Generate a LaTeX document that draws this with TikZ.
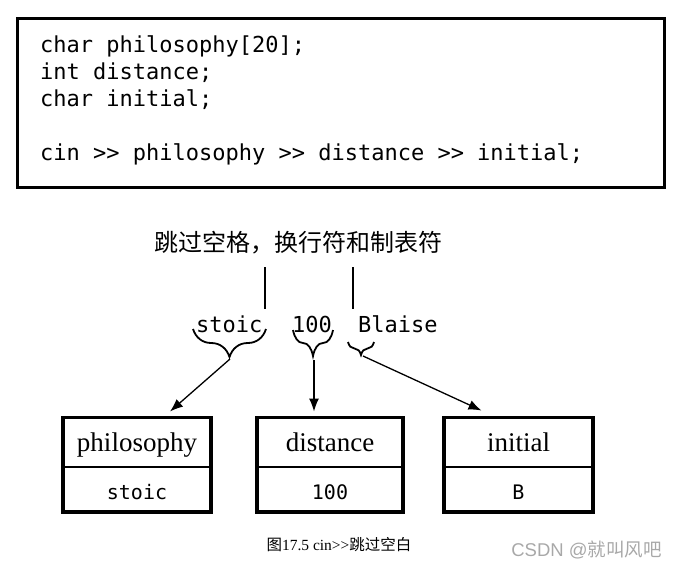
\documentclass[tikz,border=0pt]{standalone}
\usepackage{fontspec}
\setmainfont{Liberation Serif}
\newfontfamily\cjk{Noto Sans CJK SC}
\newfontfamily\codefont{DejaVu Sans Mono}
\newfontfamily\wmfont{Liberation Sans}
\usetikzlibrary{arrows.meta,calc,positioning,decorations.pathreplacing}
\definecolor{MarkGray}{RGB}{168,168,168}
\newcommand\gtgt{>\kern0pt>}

\begin{document}
\begin{tikzpicture}[x=1pt,y=-1pt,
    namecell/.style={draw,line width=2pt,outer sep=0pt,inner sep=0pt,text depth=0pt,
      minimum height=49pt,font=\fontsize{27}{29}\selectfont},
    valcell/.style={draw,line width=2pt,outer sep=0pt,inner sep=0pt,text height=20pt,text depth=0pt,
      minimum height=45.5pt,font=\codefont\fontsize{20}{22}\selectfont},
    varframe/.style={line width=3.4pt},
    codeline/.style={anchor=base west,inner sep=0pt,font=\codefont\fontsize{22}{24}\selectfont},
    inword/.style={anchor=base west,inner sep=0pt,font=\codefont\fontsize{22}{24}\selectfont},
    underbrace/.style={decorate,decoration={brace,mirror,amplitude=#1},line width=1.8pt},
    pointer/.style={-{Latex[length=13pt,width=10pt]},line width=1.3pt}]
  \useasboundingbox (0,0) rectangle (681,571);

  % the code
  \draw[line width=3pt] (17,18) rectangle (664,187);
  \node[codeline] (decl1) at (40,52) {char philosophy[20];};
  \node[codeline] (decl2) at (40,79) {int distance;};
  \node[codeline] (decl3) at (40,106) {char initial;};
  \node[codeline] (readln) at (40,160) {cin \gtgt{} philosophy \gtgt{} distance \gtgt{} initial;};

  % the input
  \node[font=\cjk\fontsize{24}{26}\selectfont,inner sep=0pt] (skipnote) at (298.5,243) {跳过空格，换行符和制表符};
  \coordinate (barA) at (265,309);
  \coordinate (barB) at (353,309);
  \draw[line width=2.8pt] (barA |- 0,267) -- (barA);
  \draw[line width=2.8pt] (barB |- 0,267) -- (barB);
  \node[inword] (wstoic) at (196,332) {stoic};
  \node[inword] (whund) at (292,332) {100};
  \node[inword] (wblaise) at (358,332) {Blaise};
  \draw[underbrace=28pt] (193,329) -- (266,329);
  \draw[underbrace=26pt] (293,330) -- (333,330);
  \draw[underbrace=13pt] (348,342) -- (374,342);
  \coordinate (stoictip) at (230,359);
  \coordinate (hundtip) at (314,360);
  \coordinate (btip) at (363,356);

  % the variables
  \node[namecell,minimum width=148pt] (philname) at (137,442) {philosophy};
  \node[valcell,minimum width=148pt,below=0pt of philname] (philval) {stoic};
  \node[namecell,minimum width=146pt] (distname) at (330,442) {distance};
  \node[valcell,minimum width=146pt,below=0pt of distname] (distval) {100};
  \node[namecell,minimum width=149pt] (initname) at (518.5,442) {initial};
  \node[valcell,minimum width=149pt,below=0pt of initname] (initval) {B};
  \draw[varframe] (philname.north west) rectangle (philval.south east);
  \draw[varframe] (distname.north west) rectangle (distval.south east);
  \draw[varframe] (initname.north west) rectangle (initval.south east);

  \draw[pointer] (stoictip) -- ([xshift=33pt,yshift=6pt]philname.north);
  \draw[pointer] (hundtip) -- ([xshift=-16pt,yshift=6pt]distname.north);
  \draw[pointer] (btip) -- ([xshift=-37pt,yshift=7pt]initname.north);

  % caption
  \node[font=\fontsize{15.5}{17}\selectfont,inner sep=0pt] (caption) at (339,545)
    {{\cjk 图}17.5 cin\gtgt{\cjk 跳过空白}};
  \node[font=\wmfont\fontsize{18.5}{20}\selectfont,text=MarkGray,inner sep=0pt] (mark) at (586.5,550)
    {CSDN @{\cjk 就叫风吧}};
\end{tikzpicture}
\end{document}
